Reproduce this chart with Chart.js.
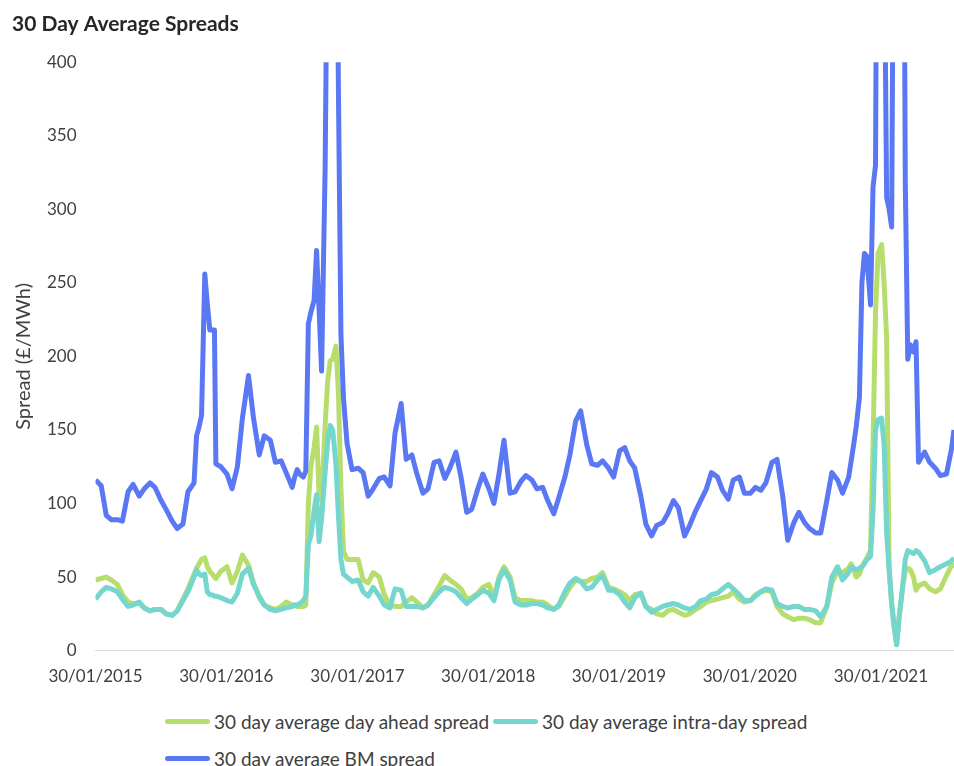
<!DOCTYPE html>
<html>
<head>
<meta charset="utf-8">
<script src="https://cdn.jsdelivr.net/npm/chart.js@4.4.1/dist/chart.umd.min.js"></script>
<style>
  body { margin: 0; background: #fff; font-family: Lato, sans-serif; }
  #wrap { position: absolute; left: 0; top: 0; width: 954px; height: 703px; }
  .item { position: absolute; display: flex; align-items: center; height: 20px; font-size: 19px; color: #404040; white-space: nowrap; }
  .swatch { width: 45px; height: 5px; border-radius: 3px; margin-right: 4px; }
</style>
</head>
<body>
<div id="wrap"><canvas id="spreadChart"></canvas></div>
<div id="legend"></div>
<script>
// x categories (dates) and the three 30 day average series
const dates = [
  "2015-01-30","2015-02-15","2015-03-01","2015-03-15","2015-04-01","2015-04-15","2015-05-01","2015-05-15","2015-06-01","2015-06-15","2015-07-01","2015-07-15","2015-08-01","2015-08-15","2015-09-01","2015-09-15","2015-10-01","2015-10-15","2015-11-01","2015-11-08","2015-11-15","2015-11-22","2015-12-01","2015-12-08","2015-12-15","2015-12-22","2015-12-28",
  "2016-01-01","2016-01-15","2016-02-01","2016-02-15","2016-03-01","2016-03-15","2016-04-01","2016-04-15","2016-05-01","2016-05-15","2016-06-01","2016-06-15","2016-07-01","2016-07-15","2016-08-01","2016-08-08","2016-08-15","2016-08-22","2016-09-01","2016-09-08","2016-09-15","2016-09-22","2016-10-01","2016-10-08","2016-10-15","2016-10-22","2016-11-01","2016-11-08","2016-11-15","2016-11-22","2016-12-01","2016-12-08","2016-12-15","2016-12-22",
  "2017-01-01","2017-01-15","2017-02-01","2017-02-15","2017-03-01","2017-03-15","2017-04-01","2017-04-15","2017-05-01","2017-05-15","2017-06-01","2017-06-15","2017-07-01","2017-07-15","2017-08-01","2017-08-15","2017-09-01","2017-09-15","2017-10-01","2017-10-15","2017-11-01","2017-11-15","2017-12-01","2017-12-15",
  "2018-01-01","2018-01-15","2018-02-01","2018-02-15","2018-03-01","2018-03-15","2018-04-01","2018-04-15","2018-05-01","2018-05-15","2018-06-01","2018-06-15","2018-07-01","2018-07-15","2018-08-01","2018-08-15","2018-09-01","2018-09-15","2018-10-01","2018-10-15","2018-11-01","2018-11-15","2018-12-01","2018-12-15",
  "2019-01-01","2019-01-15","2019-02-01","2019-02-15","2019-03-01","2019-03-15","2019-04-01","2019-04-15","2019-05-01","2019-05-15","2019-06-01","2019-06-15","2019-07-01","2019-07-15","2019-08-01","2019-08-15","2019-09-01","2019-09-15","2019-10-01","2019-10-15","2019-11-01","2019-11-15","2019-12-01","2019-12-15",
  "2020-01-01","2020-01-15","2020-02-01","2020-02-15","2020-03-01","2020-03-15","2020-04-01","2020-04-15","2020-05-01","2020-05-15","2020-06-01","2020-06-15","2020-07-01","2020-07-15","2020-08-01","2020-08-15","2020-09-01","2020-09-15","2020-10-01","2020-10-15","2020-11-01","2020-11-08","2020-11-15","2020-11-22","2020-12-01","2020-12-08","2020-12-15","2020-12-22",
  "2021-01-01","2021-01-08","2021-01-15","2021-01-22","2021-02-01","2021-02-08","2021-02-15","2021-02-22","2021-03-01","2021-03-08","2021-03-15","2021-03-22","2021-04-01","2021-04-08","2021-04-15","2021-04-22","2021-05-01","2021-05-08","2021-05-15","2021-06-01","2021-06-15","2021-07-01","2021-07-15","2021-08-01","2021-08-15","2021-08-22"
];

const dayAhead = [
  48,49,50,48,45,38,33,32,32,29,27,28,28,25,24,27,35,42,52,56,59,62,63,57,54,52,50,
  49,54,57,46,54,65,58,46,36,31,29,28,30,33,31,31,30,30,30,31,100,125,138,152,105,102,154,183,197,198,207,175,110,68,
  62,62,62,48,46,53,50,38,31,30,30,33,36,33,29,31,38,44,51,48,45,42,35,36,
  39,43,45,36,50,57,50,36,34,34,34,33,33,31,28,30,37,43,48,47,47,49,50,53,
  43,42,40,38,34,38,39,30,28,25,24,27,28,26,24,25,28,30,33,34,35,36,37,40,
  35,33,34,38,40,41,40,30,25,23,21,22,22,21,19,19,30,46,54,53,56,59,55,50,52,57,60,63,
  68,140,230,270,276,250,212,55,32,16,4,23,44,54,56,55,50,41,44,46,42,40,42,51,58,58
];

const intraDay = [
  35,40,43,42,40,35,30,31,33,29,27,28,28,25,24,27,34,40,50,55,52,51,52,40,38,38,37,
  37,36,34,33,39,52,56,45,37,31,28,27,28,29,30,31,31,32,34,37,72,78,95,106,74,90,122,142,153,150,127,92,62,52,
  50,47,48,40,37,43,37,31,29,42,41,30,30,30,29,31,36,40,43,42,40,36,32,35,
  38,41,39,34,48,55,48,33,31,31,32,32,31,29,28,31,40,46,49,47,42,43,48,51,
  41,41,38,33,29,36,39,30,26,28,30,31,32,31,29,28,30,34,35,38,39,42,45,42,
  38,34,34,37,40,42,41,32,30,29,30,30,28,28,27,23,30,50,57,48,53,57,56,55,56,57,59,62,
  64,95,150,157,158,140,80,55,32,16,4,23,44,62,68,67,66,68,67,61,53,55,57,59,61,63
];

const bmSpread = [
  116,112,92,89,89,88,108,113,105,110,114,111,102,96,88,83,86,108,114,146,152,160,256,236,218,218,218,
  127,125,120,110,125,158,187,158,133,146,143,128,129,121,111,118,123,120,118,122,222,230,238,272,232,190,330,520,700,700,600,380,215,172,
  141,123,124,121,105,110,117,118,112,148,168,130,133,120,107,110,128,129,117,124,135,118,94,96,
  110,120,110,100,120,143,107,108,115,119,116,110,111,102,93,104,118,133,156,163,140,127,126,129,
  124,118,136,138,129,124,105,86,78,85,87,93,102,97,78,85,95,102,110,121,118,109,103,116,
  118,107,107,111,109,114,128,130,105,75,87,94,87,83,80,80,102,121,116,107,118,129,140,152,172,250,270,268,
  235,315,330,700,700,500,308,300,288,600,700,700,700,320,198,208,203,210,128,135,128,124,119,120,137,150
];

const tickDates = ["2015-01-30","2016-01-30","2017-01-30","2018-01-30","2019-01-30","2020-01-30","2021-01-30"];
const tickLabels = ["30/01/2015","30/01/2016","30/01/2017","30/01/2018","30/01/2019","30/01/2020","30/01/2021"];
const axisEnd = "2021-08-22";

const seriesNames = ["30 day average day ahead spread", "30 day average intra-day spread", "30 day average BM spread"];
const seriesColors = ["#b7de6c", "#74d6cd", "#5a78f3"];

function toDays(s) {
    const [y, m, d] = s.split("-").map(Number);
    return (Date.UTC(y, m - 1, d) - Date.UTC(2015, 0, 30)) / 86400000;
}

function points(values) {
    return dates.map((d, i) => ({ x: toDays(d), y: values[i] }));
}

const textColor = "#404040";
const tickFont = { family: "Lato", size: 17 };

const allSeries = [dayAhead, intraDay, bmSpread];
const drawOrder = [2, 1, 0]; // BM on top, then intra-day, then day ahead

new Chart(document.getElementById("spreadChart"), {
    type: "line",
    data: {
        datasets: allSeries.map((vals, i) => ({
            label: seriesNames[i],
            data: points(vals),
            borderColor: seriesColors[i],
            backgroundColor: seriesColors[i],
            borderWidth: 5,
            pointRadius: 0,
            tension: 0,
            borderJoinStyle: "round",
            order: drawOrder[i]
        }))
    },
    options: {
        responsive: true,
        maintainAspectRatio: false,
        animation: false,
        layout: { padding: { left: 12, right: 0, top: 0, bottom: 0 } },
        plugins: {
            legend: { display: false },
            tooltip: { enabled: false },
            title: {
                display: true,
                text: "30 Day Average Spreads",
                align: "start",
                color: "#262626",
                font: { family: "Lato", size: 21, weight: "bold" },
                padding: { top: 12, bottom: 25 }
            }
        },
        scales: {
            x: {
                type: "linear",
                min: 0,
                max: toDays(axisEnd),
                afterBuildTicks: scale => {
                    scale.ticks = tickDates.map(d => ({ value: toDays(d) }));
                },
                ticks: {
                    autoSkip: false,
                    maxRotation: 0,
                    padding: 16,
                    color: textColor,
                    font: tickFont,
                    callback: (value, index) => tickLabels[index]
                },
                grid: { display: false, drawTicks: false },
                border: { display: true, color: "#d9d9d9", width: 1 }
            },
            y: {
                min: 0,
                max: 400,
                afterFit: scale => { scale.width = 83.5; },
                ticks: { stepSize: 50, padding: 19, color: textColor, font: tickFont },
                grid: { display: false, drawTicks: false },
                border: { display: false },
                title: {
                    display: true,
                    text: "Spread (£/MWh)",
                    color: textColor,
                    font: { family: "Lato", size: 20 },
                    padding: { top: 0, bottom: 0 }
                }
            }
        }
    }
});

// legend laid out like the original: two items on the first row, one below
const legendSpots = [[165, 711], [493, 711], [165, 748]];
const legend = document.getElementById("legend");
seriesNames.forEach((name, i) => {
    const item = document.createElement("div");
    item.className = "item";
    item.style.left = legendSpots[i][0] + "px";
    item.style.top = legendSpots[i][1] + "px";
    item.innerHTML = `<span class="swatch" style="background:${seriesColors[i]}"></span>${name}`;
    legend.appendChild(item);
});
</script>
</body>
</html>
